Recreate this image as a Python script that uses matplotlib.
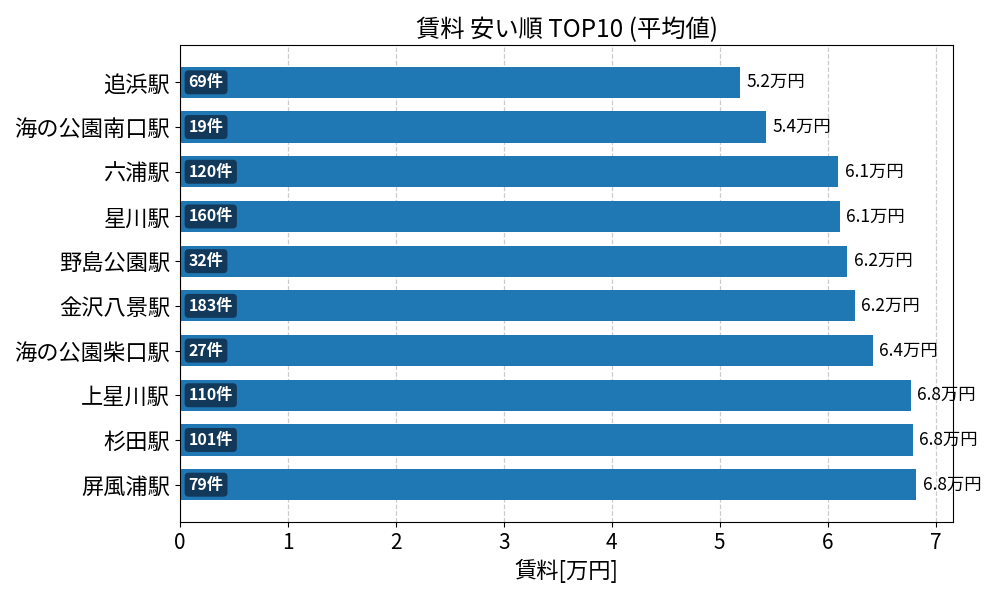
import matplotlib
matplotlib.use("Agg")
import matplotlib.pyplot as plt

plt.rcParams['font.family'] = ['Noto Sans CJK JP', 'DejaVu Sans']

stations = ["追浜駅", "海の公園南口駅", "六浦駅", "星川駅", "野島公園駅",
            "金沢八景駅", "海の公園柴口駅", "上星川駅", "杉田駅", "屏風浦駅"]
rent = [5.19, 5.43, 6.10, 6.11, 6.18, 6.25, 6.42, 6.77, 6.79, 6.82]
counts = [69, 19, 120, 160, 32, 183, 27, 110, 101, 79]

fig, ax = plt.subplots(figsize=(10, 6), dpi=100)
fig.subplots_adjust(left=0.18, right=0.953, top=0.925, bottom=0.13)

y = list(range(len(stations)))
ax.barh(y, rent, height=0.7, color="#1f77b4", zorder=2)
ax.set_yticks(y)
ax.set_yticklabels(stations, fontsize=16)
ax.invert_yaxis()
ax.set_xlim(0, max(rent) * 1.05)
ax.tick_params(axis="x", labelsize=15)
ax.grid(axis="x", linestyle="--", color="#cccccc", linewidth=0.9, zorder=0)
ax.set_axisbelow(True)

for yi, v, n in zip(y, rent, counts):
    ax.text(v + 0.06, yi, f"{v:.1f}万円", va="center", ha="left", fontsize=12.5, clip_on=False)
    ax.text(0.08, yi, f"{n}件", va="center", ha="left", fontsize=11.5, color="white",
            fontweight="bold",
            bbox=dict(boxstyle="round,pad=0.25", facecolor="#12395a", edgecolor="none"))

ax.set_xlabel("賃料[万円]", fontsize=16)
ax.set_title("賃料 安い順 TOP10 (平均値)", fontsize=17.5)

fig.savefig("out.png", dpi=100)
